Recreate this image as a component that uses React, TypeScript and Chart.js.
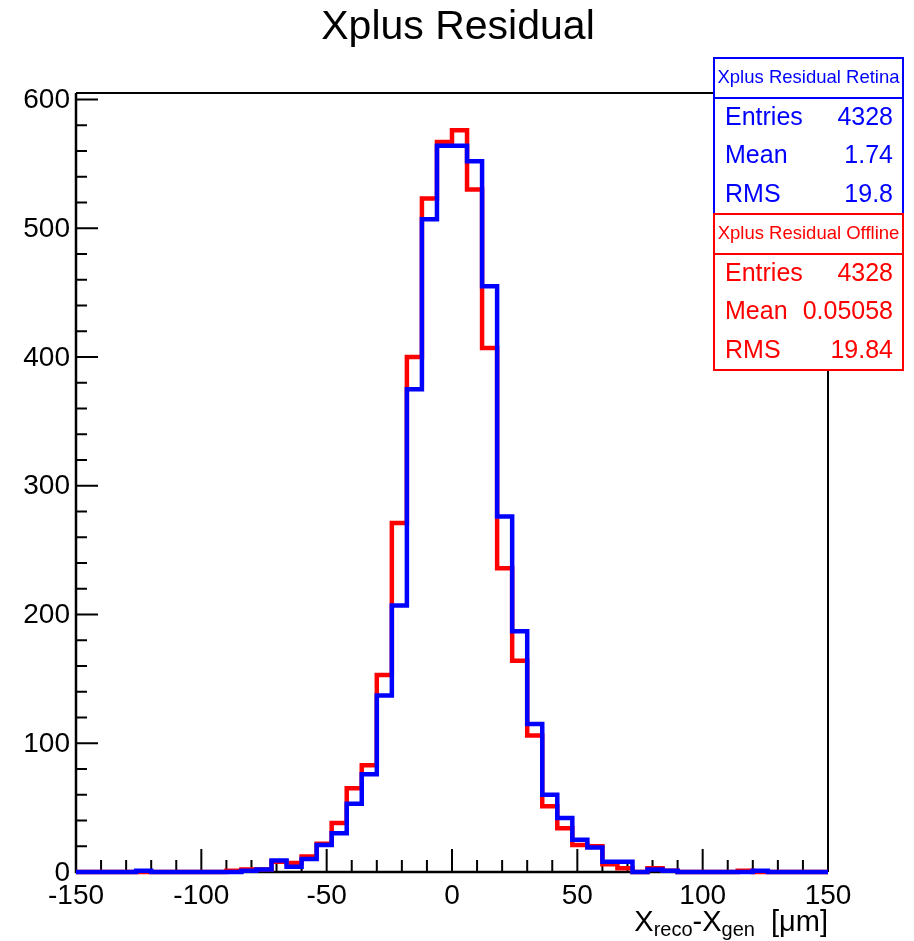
import React, { useEffect, useRef } from "react";
import { Chart, registerables } from "chart.js";

Chart.register(...registerables);

// Histogram bin low edges (6 µm bins from -150 to 150)
const binLowEdges: number[] = [
  -150, -144, -138, -132, -126, -120, -114, -108, -102, -96,
  -90, -84, -78, -72, -66, -60, -54, -48, -42, -36,
  -30, -24, -18, -12, -6, 0, 6, 12, 18, 24,
  30, 36, 42, 48, 54, 60, 66, 72, 78, 84,
  90, 96, 102, 108, 114, 120, 126, 132, 138, 144,
];
const xMin = -150;
const xMax = 150;
const yMax = 605;

const retinaCounts: number[] = [
  0, 0, 0, 0, 1, 0, 0, 0, 0, 0,
  0, 1, 2, 9, 4, 10, 21, 30, 53, 76,
  137, 207, 375, 507, 564, 564, 552, 455, 276, 187,
  115, 60, 42, 25, 19, 8, 8, 0, 2, 1,
  0, 0, 0, 0, 0, 1, 0, 0, 0, 0,
];
const offlineCounts: number[] = [
  0, 0, 0, 0, 0, 0, 0, 0, 0, 0,
  1, 2, 2, 8, 7, 12, 22, 38, 65, 83,
  153, 271, 400, 523, 567, 576, 530, 407, 236, 164,
  106, 51, 34, 21, 20, 6, 3, 0, 3, 1,
  0, 0, 0, 0, 1, 0, 0, 0, 0, 0,
];

const yMajorTicks: number[] = [0, 100, 200, 300, 400, 500, 600];
const xMajorTicks: number[] = [-150, -100, -50, 0, 50, 100, 150];
const yMinorStep = 20;
const xMinorStep = 10;

const titleText = "Xplus Residual";

const statsRetina = {
  title: "Xplus Residual Retina",
  rows: [
    ["Entries", "4328"],
    ["Mean", "1.74"],
    ["RMS", "19.8"],
  ],
};
const statsOffline = {
  title: "Xplus Residual Offline",
  rows: [
    ["Entries", "4328"],
    ["Mean", "0.05058"],
    ["RMS", "19.84"],
  ],
};

const FONT = "'Liberation Sans', Arial, Helvetica, sans-serif";

function toPoints(vals: number[]) {
  const pts = binLowEdges.map((e, i) => ({ x: e, y: vals[i] }));
  pts.push({ x: xMax, y: vals[vals.length - 1] });
  return pts;
}

const framePlugin = {
  id: "rootFrame",
  beforeDatasetsDraw(chart: any) {
    const ctx = chart.ctx;
    const xs = chart.scales.x;
    const ys = chart.scales.y;
    const { left, right, top, bottom } = chart.chartArea;
    ctx.save();
    ctx.strokeStyle = "#000";
    ctx.lineCap = "butt";
    // frame
    ctx.lineWidth = 2;
    ctx.beginPath();
    ctx.moveTo(left, top);
    ctx.lineTo(right, top);
    ctx.lineTo(right, bottom);
    ctx.stroke();
    ctx.lineWidth = 2.5;
    ctx.beginPath();
    ctx.moveTo(left, top);
    ctx.lineTo(left, bottom);
    ctx.lineTo(right, bottom);
    ctx.stroke();

    // y ticks
    ctx.lineWidth = 2;
    ctx.beginPath();
    for (let v = 0; v <= yMax; v += yMinorStep) {
      const py = ys.getPixelForValue(v);
      const major = v % 100 === 0;
      ctx.moveTo(left, py);
      ctx.lineTo(left + (major ? 22 : 11), py);
    }
    // x ticks
    for (let v = xMin; v <= xMax; v += xMinorStep) {
      const px = xs.getPixelForValue(v);
      const major = v % 50 === 0;
      ctx.moveTo(px, bottom);
      ctx.lineTo(px, bottom - (major ? 23 : 12));
    }
    ctx.stroke();

    // tick labels
    ctx.fillStyle = "#000";
    ctx.font = `28px ${FONT}`;
    ctx.textAlign = "right";
    ctx.textBaseline = "middle";
    yMajorTicks.forEach((v) => {
      ctx.fillText(String(v), left - 6, ys.getPixelForValue(v) + 1);
    });
    ctx.textAlign = "center";
    ctx.textBaseline = "alphabetic";
    xMajorTicks.forEach((v) => {
      ctx.fillText(String(v), xs.getPixelForValue(v), bottom + 32);
    });

    // title
    ctx.font = `41px ${FONT}`;
    ctx.textAlign = "center";
    ctx.fillText(titleText, 458, 39);

    // x axis title (right-aligned to frame)
    const parts: [string, number, number][] = [
      ["X", 29, 0],
      ["reco", 20, 5],
      ["-", 29, 0],
      ["X", 29, 0],
      ["gen", 20, 5],
      ["  [\u03bcm]", 29, 0],
    ];
    let total = 0;
    parts.forEach(([t, s]) => {
      ctx.font = `${s}px ${FONT}`;
      total += ctx.measureText(t).width;
    });
    let cx = right - total;
    ctx.textAlign = "left";
    const base = 931;
    parts.forEach(([t, s, dy]) => {
      ctx.font = `${s}px ${FONT}`;
      ctx.fillText(t, cx, base + dy);
      cx += ctx.measureText(t).width;
    });
    ctx.restore();
  },
  afterDatasetsDraw(chart: any) {
    const ctx = chart.ctx;
    const drawBox = (stats: any, color: string, y0: number) => {
      const x0 = 714;
      const x1 = 903;
      const sep = y0 + 40;
      const y1 = y0 + 156;
      ctx.save();
      ctx.fillStyle = "#fff";
      ctx.fillRect(x0, y0, x1 - x0, y1 - y0);
      ctx.strokeStyle = color;
      ctx.lineWidth = 2;
      ctx.strokeRect(x0, y0, x1 - x0, y1 - y0);
      ctx.beginPath();
      ctx.moveTo(x0, sep);
      ctx.lineTo(x1, sep);
      ctx.stroke();
      ctx.fillStyle = color;
      ctx.font = `18.5px ${FONT}`;
      ctx.textAlign = "center";
      ctx.textBaseline = "middle";
      ctx.fillText(stats.title, (x0 + x1) / 2, y0 + 20);
      ctx.font = `25px ${FONT}`;
      stats.rows.forEach((r: string[], i: number) => {
        const ry = y0 + 60 + i * 38.5;
        ctx.textAlign = "left";
        ctx.fillText(r[0], x0 + 11, ry);
        ctx.textAlign = "right";
        ctx.fillText(r[1], x1 - 10, ry);
      });
      ctx.restore();
    };
    drawBox(statsRetina, "#0000ff", 58);
    drawBox(statsOffline, "#ff0000", 214);
  },
};

export default function App() {
  const canvasRef = useRef<HTMLCanvasElement | null>(null);

  useEffect(() => {
    const canvas = canvasRef.current;
    if (!canvas) return;
    const common = {
      borderWidth: 4.5,
      stepped: "before",
      pointRadius: 0,
      fill: false,
      clip: 8,
      borderJoinStyle: "miter",
      borderCapStyle: "butt",
    };
    const chart = new Chart(canvas, {
      type: "line",
      data: {
        datasets: [
          {
            label: "Xplus Residual Retina",
            data: toPoints(retinaCounts),
            borderColor: "#0000ff",
            ...common,
          } as any,
          {
            label: "Xplus Residual Offline",
            data: toPoints(offlineCounts),
            borderColor: "#ff0000",
            ...common,
          } as any,
        ],
      },
      options: {
        responsive: false,
        animation: false,
        devicePixelRatio: 1,
        layout: { padding: { left: 76, right: 86, top: 93, bottom: 69 } },
        plugins: {
          legend: { display: false },
          tooltip: { enabled: false },
          title: { display: false },
        },
        scales: {
          x: { type: "linear", min: xMin, max: xMax, display: false },
          y: { type: "linear", min: 0, max: yMax, display: false },
        },
      },
      plugins: [framePlugin],
    });
    return () => chart.destroy();
  }, []);

  return (
    <div style={{ position: "fixed", left: 0, top: 0, width: 914, height: 941, background: "#fff" }}>
      <canvas ref={canvasRef} width={914} height={941} style={{ display: "block", width: 914, height: 941 }} />
    </div>
  );
}
